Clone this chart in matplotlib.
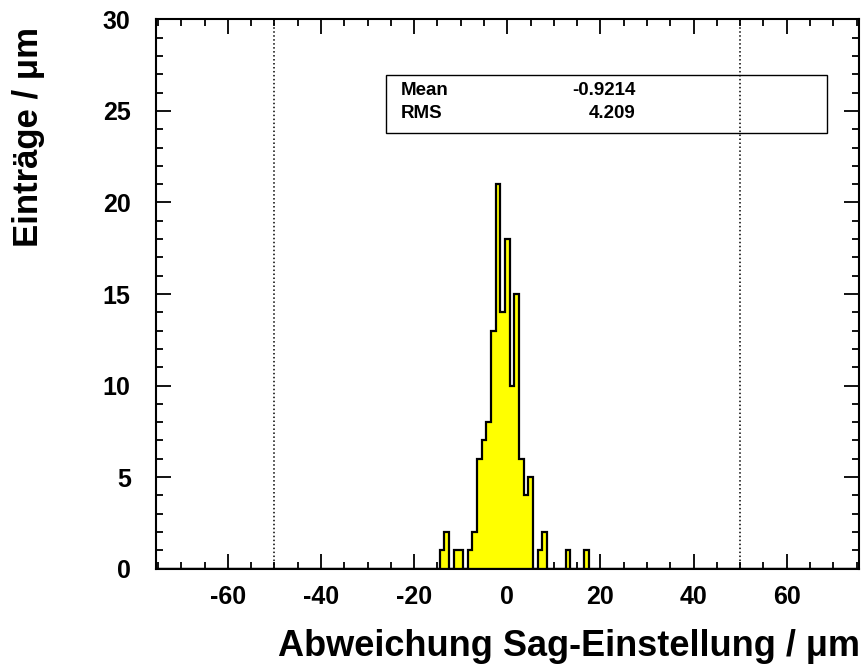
import numpy as np
import matplotlib
matplotlib.use('Agg')
import matplotlib.pyplot as plt
from matplotlib.patches import Rectangle

# Histogram content (bin centres in um, entries); all other bins are empty
bin_centres = [-14, -13, -11, -10, -8, -7, -6, -5, -4, -3, -2, -1,
               0, 1, 2, 3, 4, 5, 7, 8, 13, 17]
bin_counts = [1, 2, 1, 1, 1, 2, 6, 7, 8, 13, 21, 14,
              18, 10, 15, 6, 4, 5, 1, 2, 1, 1]

# Histogram range: 151 bins of 1 um
x_lo, x_hi = -75.5, 75.5
bin_edges = np.arange(x_lo, x_hi + 0.5, 1.0)

# Limit lines
limits = [-50, 50]

x_ticks = [-60, -40, -20, 0, 20, 40, 60]
y_ticks = [0, 5, 10, 15, 20, 25, 30]

plt.rcParams['font.family'] = ['Liberation Sans', 'DejaVu Sans']
plt.rcParams['font.weight'] = 'bold'
plt.rcParams['axes.unicode_minus'] = False

fig = plt.figure(figsize=(8.65, 6.69), dpi=100)
ax = fig.add_axes([0.180, 0.150, 0.813, 0.821])

ax.hist(bin_centres, bins=bin_edges, weights=bin_counts, histtype='stepfilled',
        facecolor='#ffff00', edgecolor='black', linewidth=1.6, zorder=2)

for xl in limits:
    ax.axvline(xl, color='black', linestyle=(0, (1, 1.6)), linewidth=1.1, zorder=3)

ax.set_xlim(x_lo, x_hi)
ax.set_ylim(0, 30)
ax.set_xticks(x_ticks)
ax.set_yticks(y_ticks)
ax.set_xticks(np.arange(-75, 76, 5), minor=True)
ax.set_yticks(np.arange(0, 31, 1), minor=True)

ax.tick_params(which='both', direction='in', top=True, right=True, width=1.3,
               labelsize=18)
ax.tick_params(which='major', length=10.5)
ax.tick_params(which='minor', length=5)
ax.tick_params(axis='x', pad=12)
ax.tick_params(axis='y', pad=18)
for lab in ax.get_xticklabels() + ax.get_yticklabels():
    lab.set_fontweight('bold')
for sp in ax.spines.values():
    sp.set_linewidth(1.5)

# Axis titles, aligned to the axis ends as in ROOT
fig.text(860 / 865, 1 - 656 / 669, 'Abweichung Sag-Einstellung / μm',
         ha='right', va='baseline', fontsize=26, fontweight='bold')
fig.text(12 / 865, 1 - 27 / 669, 'Einträge / μm', rotation=90,
         ha='left', va='top', fontsize=25, fontweight='bold')

# Statistics box
vals = np.array(bin_centres, dtype=float)
w = np.array(bin_counts, dtype=float)
mean = np.sum(vals * w) / np.sum(w)
rms = np.sqrt(np.sum(w * (vals - mean) ** 2) / np.sum(w))

box = Rectangle((0.3275, 0.794), 0.627, 0.1055, transform=ax.transAxes,
                facecolor='none', edgecolor='black', linewidth=1.0, zorder=4)
ax.add_patch(box)
ax.text(0.349, 0.871, 'Mean', transform=ax.transAxes, ha='left', va='center',
        fontsize=13.5, fontweight='bold')
ax.text(0.682, 0.871, f'{mean:.4f}', transform=ax.transAxes, ha='right',
        va='center', fontsize=13.5, fontweight='bold')
ax.text(0.349, 0.829, 'RMS', transform=ax.transAxes, ha='left', va='center',
        fontsize=13.5, fontweight='bold')
ax.text(0.682, 0.829, f'{rms:.3f}', transform=ax.transAxes, ha='right',
        va='center', fontsize=13.5, fontweight='bold')

fig.savefig('out.png', dpi=100)
